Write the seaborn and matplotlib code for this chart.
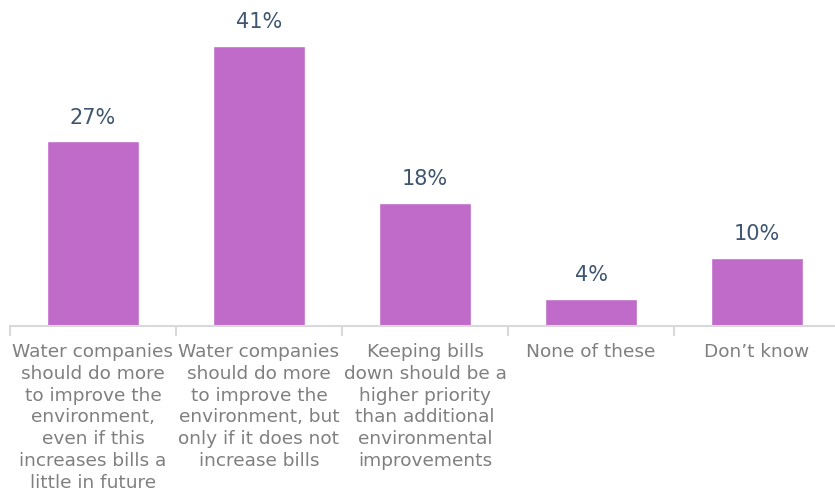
import numpy as np
import pandas as pd
import matplotlib
matplotlib.use('Agg')
import matplotlib.pyplot as plt
import seaborn as sns

# Data
categories = [
    'Water companies\nshould do more\nto improve the\nenvironment,\neven if this\nincreases bills a\nlittle in future',
    'Water companies\nshould do more\nto improve the\nenvironment, but\nonly if it does not\nincrease bills',
    'Keeping bills\ndown should be a\nhigher priority\nthan additional\nenvironmental\nimprovements',
    'None of these',
    'Don\u2019t know',
]
values = [27, 41, 18, 4, 10]

df = pd.DataFrame({'category': categories, 'value': values})

sns.set_style('white')
plt.rcParams['font.family'] = ['DejaVu Sans']

fig = plt.figure(figsize=(8.35, 4.95), dpi=100)
ax = fig.add_axes([10 / 835, 169 / 495, 830 / 835, 326 / 495])

sns.barplot(data=df, x='category', y='value', color='#C06BC9', saturation=1,
            width=0.55, ax=ax)

# Value labels
for i, v in enumerate(values):
    ax.text(i, v + 2.0, f'{v}%', ha='center', va='bottom',
            fontsize=15, color='#3E5570')

ax.set_xlim(-0.5, 4.5)
ax.set_ylim(0, 47.7)
ax.set_xlabel('')
ax.set_ylabel('')
ax.set_yticks([])

for s in ['top', 'right', 'left']:
    ax.spines[s].set_visible(False)
ax.spines['bottom'].set_color('#D9D9D9')
ax.spines['bottom'].set_linewidth(1.5)

ax.set_xticks(range(len(categories)))
ax.set_xticklabels(categories, fontsize=13.3, color='#7F7F7F',
                   linespacing=1.28)
ax.tick_params(axis='x', which='major', bottom=True, length=0, pad=12)
ax.set_xticks(np.arange(-0.5, 5.0, 1.0), minor=True)
ax.tick_params(axis='x', which='minor', bottom=True, length=7, width=1.5,
               color='#D9D9D9', direction='out')

fig.savefig('out.png', dpi=100)
